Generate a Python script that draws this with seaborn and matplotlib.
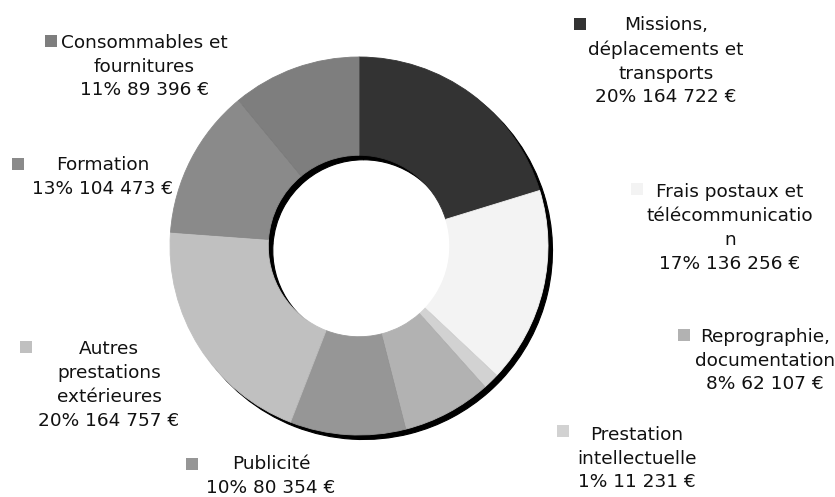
import numpy as np
import matplotlib
matplotlib.use("Agg")
import matplotlib.pyplot as plt
from matplotlib.patches import Rectangle
import seaborn as sns

# budget items, clockwise from the top
categories = ["Missions,\ndéplacements et\ntransports",
              "Frais postaux et\ntélécommunicatio\nn",
              "Prestation\nintellectuelle",
              "Reprographie,\ndocumentation",
              "Publicité",
              "Autres\nprestations\nextérieures",
              "Formation",
              "Consommables et\nfournitures"]
amounts = [164722, 136256, 11231, 62107, 80354, 164757, 104473, 89396]
greys = ["#333333", "#f3f3f3", "#d2d2d2", "#b2b2b2",
         "#969696", "#c0c0c0", "#8a8a8a", "#7e7e7e"]

# label layout in pixels: (text centre x, first line y, marker x, marker y)
label_pos = [(666, 23, 580, 24), (730, 190, 637, 189), (637, 433, 563, 431),
             (765, 335, 684, 335), (271, 463, 192, 464), (109, 347, 26, 347),
             (103, 164, 18, 164), (144, 41, 51, 41)]

W, H = 835, 497
cx, cy, R = 359, 246, 189   # pie centre and radius, pixels
line_h = 25.5

sns.set_theme(style="white")
plt.rcParams["font.family"] = ["DejaVu Sans"]

fig = plt.figure(figsize=(W / 100, H / 100), dpi=100)
ax = fig.add_axes([0, 0, 1, 1])
ax.axis("off")

# drop shadow behind the ring
off = 4.5 / R
ax.pie(amounts, startangle=90, counterclock=False, colors=["black"] * len(amounts),
       center=(off, -off), wedgeprops=dict(width=0.52, linewidth=0.8, edgecolor="black"))
wedges, _ = ax.pie(amounts, startangle=90, counterclock=False, colors=greys,
                   wedgeprops=dict(width=0.52, linewidth=0.6))
for w in wedges:
    w.set_edgecolor(w.get_facecolor())
ax.set_xlim(-cx / R, (W - cx) / R)
ax.set_ylim(-(H - cy) / R, cy / R)
ax.set_aspect("auto")

total = sum(amounts)
for name, val, col, (tx, ty, mx, my) in zip(categories, amounts, greys, label_pos):
    pct = round(val / total * 100)
    amount = f"{val:,}".replace(",", " ")
    txt = f"{name}\n{pct}% {amount} €"
    n = txt.count("\n") + 1
    yc = ty + (n - 1) * line_h / 2
    fig.text(tx / W, 1 - yc / H, txt, ha="center", va="center",
             multialignment="center", fontsize=13.3, linespacing=1.42,
             color="#111111")
    fig.add_artist(Rectangle(((mx - 6) / W, 1 - (my + 6) / H), 12 / W, 12 / H,
                             transform=fig.transFigure, facecolor=col,
                             edgecolor="none"))

fig.savefig("out.png", dpi=100)
